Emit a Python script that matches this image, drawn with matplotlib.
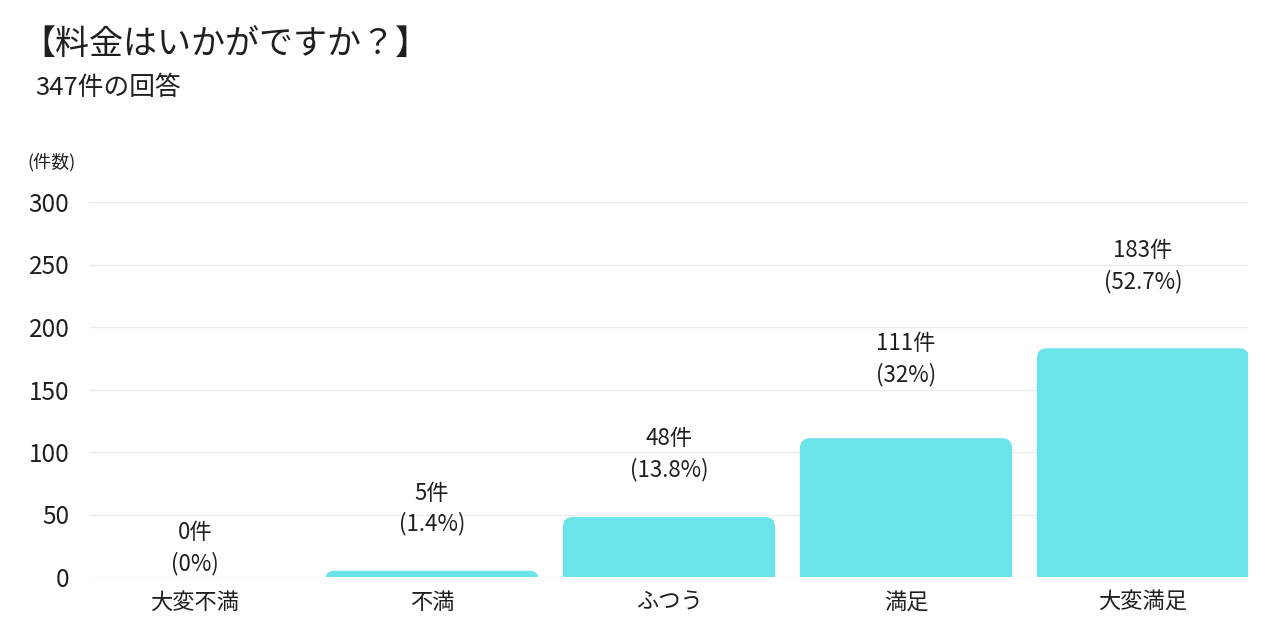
import matplotlib

matplotlib.use("Agg")
import matplotlib.pyplot as plt
from matplotlib.path import Path
from matplotlib.patches import PathPatch

plt.rcParams["font.family"] = ["Noto Sans CJK JP", "DejaVu Sans"]

# data
categories = ["大変不満", "不満", "ふつう", "満足", "大変満足"]
counts = [0, 5, 48, 111, 183]
percents = ["0%", "1.4%", "13.8%", "32%", "52.7%"]
yticks = [0, 50, 100, 150, 200, 250, 300]

title = "【料金はいかがですか？】"
subtitle = "347件の回答"
unit_label = "(件数)"

BAR = "#6ae4e8"
INK = "#1f1f1f"
GRID = "#ececec"
BAR_WIDTH = 0.895
CORNER_PX = 10
LABEL_GAP_PX = [2, 35, 36, 52, 55]

fig = plt.figure(figsize=(12.8, 6.4), dpi=100)
ax = fig.add_axes([89 / 1280, 1 - 577 / 640, (1248 - 89) / 1280, (577 - 202) / 640])
ax.set_xlim(-0.447, len(categories) - 1 + 0.443)
ax.set_ylim(0, 300)

# pixel -> data scale so the rounded corners stay circular
p0 = ax.transData.transform((0, 0))
p1 = ax.transData.transform((1, 1))
rx = CORNER_PX / (p1[0] - p0[0])
ry_full = CORNER_PX / (p1[1] - p0[1])

for i, v in enumerate(counts):
    if v <= 0:
        continue
    x0, x1 = i - BAR_WIDTH / 2, i + BAR_WIDTH / 2
    ry = min(ry_full, v)
    verts = [(x0, 0), (x0, v - ry), (x0, v), (x0 + rx, v), (x1 - rx, v),
             (x1, v), (x1, v - ry), (x1, 0), (x0, 0)]
    codes = [Path.MOVETO, Path.LINETO, Path.CURVE3, Path.CURVE3, Path.LINETO,
             Path.CURVE3, Path.CURVE3, Path.LINETO, Path.CLOSEPOLY]
    ax.add_patch(PathPatch(Path(verts, codes), facecolor=BAR, edgecolor="none", zorder=3))

for i, (v, p) in enumerate(zip(counts, percents)):
    ax.annotate(f"{v}件\n({p})", (i, v), textcoords="offset points",
                xytext=(0, LABEL_GAP_PX[i] * 0.72), ha="center", va="bottom",
                fontsize=16, color=INK, linespacing=1.4, annotation_clip=False)

ax.set_yticks(yticks)
ax.set_xticks(range(len(categories)))
ax.set_xticklabels(categories)
ax.grid(True, axis="y", color=GRID, linewidth=1.0, zorder=0)
ax.set_axisbelow(True)
for s in ax.spines.values():
    s.set_visible(False)
ax.tick_params(axis="y", length=0, pad=14, labelsize=17.5, labelcolor=INK)
ax.tick_params(axis="x", length=0, pad=10, labelsize=16, labelcolor=INK)

fig.text(21 / 1280, 1 - 45 / 640, title, fontsize=24.5, color=INK, va="center", ha="left")
fig.text(35 / 1280, 1 - 88 / 640, subtitle, fontsize=18.5, color=INK, va="center", ha="left")
fig.text(27 / 1280, 1 - 162 / 640, unit_label, fontsize=13, color=INK, va="center", ha="left")

fig.savefig("out.png", dpi=100, facecolor="white")
